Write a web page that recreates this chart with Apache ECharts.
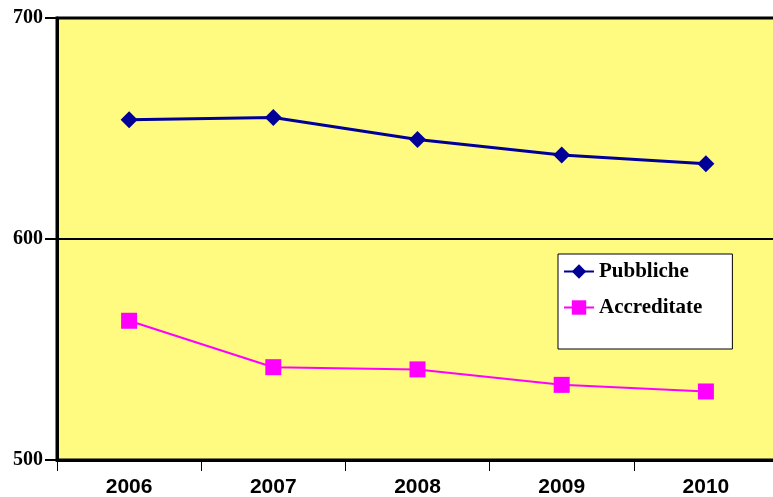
<!DOCTYPE html>
<html>
<head>
<meta charset="utf-8">
<script src="https://cdn.jsdelivr.net/npm/echarts@6/dist/echarts.min.js"></script>
<style>
  html, body { margin: 0; padding: 0; background: #fff; }
  #chart { width: 773px; height: 497px; }
</style>
</head>
<body>
<div id="chart"></div>
<script>
var years = ['2006', '2007', '2008', '2009', '2010']
var pubbliche = [654, 655, 645, 638, 634]
var accreditate = [563, 542, 541, 534, 531]

var myChart = echarts.init(document.getElementById('chart'))

var option = {
  animation: false,
  grid: {
    left: 57,
    width: 721,
    top: 18,
    bottom: 37,
    outerBoundsMode: 'none',
    show: true,
    backgroundColor: '#FFFA80',
    borderColor: '#000',
    borderWidth: 3
  },
  legend: {
    orient: 'vertical',
    left: 558,
    top: 254,
    backgroundColor: '#fff',
    borderColor: '#000',
    borderWidth: 1,
    padding: [7, 30, 31, 5],
    itemWidth: 30,
    itemHeight: 18,
    itemGap: 15,
    textStyle: {
      fontFamily: 'Liberation Serif',
      fontWeight: 'bold',
      fontSize: 21,
      color: '#000'
    },
    data: ['Pubbliche', 'Accreditate']
  },
  xAxis: {
    type: 'category',
    data: years,
    boundaryGap: true,
    axisLine: { lineStyle: { color: '#000', width: 3 } },
    axisTick: { show: true, length: 11, lineStyle: { color: '#000', width: 1 } },
    axisLabel: {
      margin: 17,
      fontFamily: 'Liberation Sans',
      fontWeight: 'bold',
      fontSize: 21,
      color: '#000'
    },
    splitLine: { show: false }
  },
  yAxis: {
    type: 'value',
    min: 500,
    max: 700,
    interval: 100,
    axisLine: { show: true, lineStyle: { color: '#000', width: 3 } },
    axisTick: { show: true, length: 12, lineStyle: { color: '#000', width: 2 } },
    axisLabel: {
      margin: 14,
      fontFamily: 'Liberation Serif',
      fontWeight: 'bold',
      fontSize: 20,
      color: '#000'
    },
    splitLine: { show: true, lineStyle: { color: '#000', width: 2 } }
  },
  series: [
    {
      name: 'Pubbliche',
      type: 'line',
      data: pubbliche,
      symbol: 'diamond',
      symbolSize: 17,
      itemStyle: { color: '#000099' },
      lineStyle: { color: '#000099', width: 3 }
    },
    {
      name: 'Accreditate',
      type: 'line',
      data: accreditate,
      symbol: 'rect',
      symbolSize: 16,
      itemStyle: { color: '#FF00FF' },
      lineStyle: { color: '#FF00FF', width: 2 }
    }
  ]
}

myChart.setOption(option)
</script>
</body>
</html>
